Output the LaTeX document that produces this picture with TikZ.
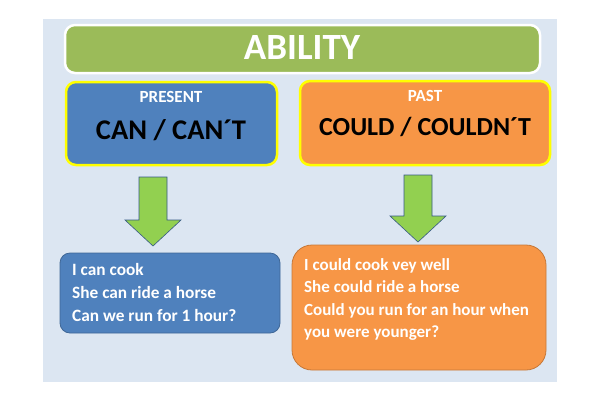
\documentclass[tikz,border=0pt]{standalone}
\usepackage{fontspec}
\setmainfont{Carlito}
\definecolor{bg}{HTML}{DCE6F2}
\definecolor{gr}{HTML}{9BBB59}
\definecolor{bl}{HTML}{4F81BD}
\definecolor{og}{HTML}{F79646}
\definecolor{ar}{HTML}{92D050}
\definecolor{yl}{HTML}{FFFF00}
\begin{document}
\begin{tikzpicture}[x=1pt,y=-1pt,
 box/.style={rounded corners=10pt,line width=2.5pt},
 arr/.style={draw=bl!70!black,fill=ar,line width=0.6pt},
 t/.style={text=white,anchor=north west,align=left,inner sep=0pt}]
\useasboundingbox (0,0) rectangle (600,400);
\fill[bg] (43,19) rectangle (557,382);
\draw[box,fill=gr,draw=white] (65,25) rectangle (540,73);
\node (title) at (302,47) {\fontsize{37}{40}\bfseries\color{white}ABILITY};
\draw[box,fill=bl,draw=yl] (66,82) rectangle (277,165);
\node (pres) at (171,97) {\fontsize{17}{19}\bfseries\color{white}PRESENT};
\node (can) at (171,130) {\fontsize{28.5}{32}\bfseries CAN / CAN´T};
\draw[box,fill=og,draw=yl] (300,81) rectangle (550,165);
\node (past) at (425,96) {\fontsize{17}{19}\bfseries\color{white}PAST};
\node (could) at (425,127) {\fontsize{26}{30}\bfseries COULD / COULDN´T};
\draw[arr] (139,177) -- (167,177) -- (167,220) -- (181,220) -- (153,246) -- (125,220) -- (139,220) -- cycle;
\draw[arr] (404,175) -- (432,175) -- (432,216) -- (446,216) -- (418,242) -- (390,216) -- (404,216) -- cycle;
\draw[box,fill=bl,draw=bl!80!black,line width=0.8pt] (60,253) rectangle (280,333);
\node[t,font=\fontsize{17.3}{23}\selectfont\bfseries] (l) at (72,263) {I can cook\\She can ride a horse\\Can we run for 1 hour?};
\draw[box,rounded corners=20pt,fill=og,draw=og!80!black,line width=0.8pt] (292,245) rectangle (546,370);
\node[t,font=\fontsize{17}{22.5}\selectfont\bfseries] (r) at (304,258) {I could cook vey well\\She could ride a horse\\Could you run for an hour when\\you were younger?};
\end{tikzpicture}
\end{document}
